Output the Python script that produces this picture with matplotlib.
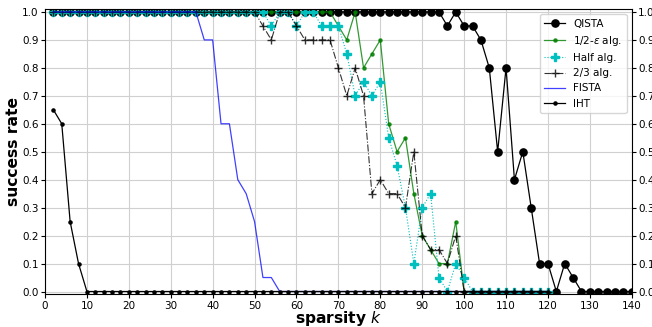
import matplotlib
matplotlib.use("Agg")
import matplotlib.pyplot as plt

# sparsity levels
k_qista = list(range(2, 142, 2))
k_other = list(range(2, 122, 2))

qista = [1.0, 1.0, 1.0, 1.0, 1.0, 1.0, 1.0, 1.0, 1.0, 1.0,
         1.0, 1.0, 1.0, 1.0, 1.0, 1.0, 1.0, 1.0, 1.0, 1.0,
         1.0, 1.0, 1.0, 1.0, 1.0, 1.0, 1.0, 1.0, 1.0, 1.0,
         1.0, 1.0, 1.0, 1.0, 1.0, 1.0, 1.0, 1.0, 1.0, 1.0,
         1.0, 1.0, 1.0, 1.0, 1.0, 1.0, 1.0, 0.95, 1.0, 0.95,
         0.95, 0.9, 0.8, 0.5, 0.8, 0.4, 0.5, 0.3, 0.1, 0.1,
         0.0, 0.1, 0.05, 0.0, 0.0, 0.0, 0.0, 0.0, 0.0, 0.0]

half_eps = [1.0, 1.0, 1.0, 1.0, 1.0, 1.0, 1.0, 1.0, 1.0, 1.0,
            1.0, 1.0, 1.0, 1.0, 1.0, 1.0, 1.0, 1.0, 1.0, 1.0,
            1.0, 1.0, 1.0, 1.0, 1.0, 1.0, 1.0, 1.0, 1.0, 1.0,
            1.0, 1.0, 1.0, 1.0, 0.95, 0.9, 1.0, 0.8, 0.85, 0.9,
            0.6, 0.5, 0.55, 0.35, 0.2, 0.15, 0.1, 0.1, 0.25, 0.0,
            0.0, 0.0, 0.0, 0.0, 0.0, 0.0, 0.0, 0.0, 0.0, 0.0]

half = [1.0, 1.0, 1.0, 1.0, 1.0, 1.0, 1.0, 1.0, 1.0, 1.0,
        1.0, 1.0, 1.0, 1.0, 1.0, 1.0, 1.0, 1.0, 1.0, 1.0,
        1.0, 1.0, 1.0, 1.0, 1.0, 1.0, 0.95, 1.0, 1.0, 0.95,
        1.0, 1.0, 0.95, 0.95, 0.95, 0.85, 0.7, 0.75, 0.7, 0.75,
        0.55, 0.45, 0.3, 0.1, 0.3, 0.35, 0.05, 0.0, 0.1, 0.05,
        0.0, 0.0, 0.0, 0.0, 0.0, 0.0, 0.0, 0.0, 0.0, 0.0]

two_thirds = [1.0, 1.0, 1.0, 1.0, 1.0, 1.0, 1.0, 1.0, 1.0, 1.0,
              1.0, 1.0, 1.0, 1.0, 1.0, 1.0, 1.0, 1.0, 1.0, 1.0,
              1.0, 1.0, 1.0, 1.0, 1.0, 0.95, 0.9, 1.0, 1.0, 0.95,
              0.9, 0.9, 0.9, 0.9, 0.8, 0.7, 0.8, 0.7, 0.35, 0.4,
              0.35, 0.35, 0.3, 0.5, 0.2, 0.15, 0.15, 0.1, 0.2, 0.0,
              0.0, 0.0, 0.0, 0.0, 0.0, 0.0, 0.0, 0.0, 0.0, 0.0]

fista = [1.0, 1.0, 1.0, 1.0, 1.0, 1.0, 1.0, 1.0, 1.0, 1.0,
         1.0, 1.0, 1.0, 1.0, 1.0, 1.0, 1.0, 1.0, 0.9, 0.9,
         0.6, 0.6, 0.4, 0.35, 0.25, 0.05, 0.05, 0.0, 0.0, 0.0,
         0.0, 0.0, 0.0, 0.0, 0.0, 0.0, 0.0, 0.0, 0.0, 0.0,
         0.0, 0.0, 0.0, 0.0, 0.0, 0.0, 0.0, 0.0, 0.0, 0.0,
         0.0, 0.0, 0.0, 0.0, 0.0, 0.0, 0.0, 0.0, 0.0, 0.0]

iht = [0.65, 0.6, 0.25, 0.1, 0.0, 0.0, 0.0, 0.0, 0.0, 0.0,
       0.0, 0.0, 0.0, 0.0, 0.0, 0.0, 0.0, 0.0, 0.0, 0.0,
       0.0, 0.0, 0.0, 0.0, 0.0, 0.0, 0.0, 0.0, 0.0, 0.0,
       0.0, 0.0, 0.0, 0.0, 0.0, 0.0, 0.0, 0.0, 0.0, 0.0,
       0.0, 0.0, 0.0, 0.0, 0.0, 0.0, 0.0, 0.0, 0.0, 0.0,
       0.0, 0.0, 0.0, 0.0, 0.0, 0.0, 0.0, 0.0, 0.0, 0.0]

fig, ax = plt.subplots(figsize=(6.52, 3.27), dpi=100)
fig.subplots_adjust(left=0.069, right=0.969, top=0.972, bottom=0.1)

ax.plot(k_qista, qista, 'k-o', lw=0.9, ms=5.2, label='QISTA')
ax.plot(k_other, half_eps, color='g', marker='.', ms=4.5, lw=0.9, alpha=0.8,
        label=r'1/2-$\epsilon$ alg.')
ax.plot(k_other, half, color='c', ls=':', marker='P', ms=5.5, lw=0.8,
        label='Half alg.')
ax.plot(k_other, two_thirds, color='k', ls='-.', marker='+', ms=5.5, lw=0.8,
        alpha=0.8, label='2/3 alg.')
ax.plot(k_other, fista, color='b', lw=0.9, alpha=0.75, label='FISTA')
ax.plot(k_other, iht, 'k.-', lw=0.9, ms=4.5, label='IHT')

ax.set_xlim(0, 140)
ax.set_ylim(-0.01, 1.01)
ax.set_xticks(range(0, 141, 10))
ax.set_yticks([i / 10 for i in range(11)])
ax.yaxis.set_major_formatter(matplotlib.ticker.FormatStrFormatter('%.1f'))
ax.tick_params(labelsize=7.5, right=True, labelright=True, length=3, pad=1.5)
ax.grid(True, color='#d0d0d0', lw=0.8)

ax.set_xlabel(r'sparsity $k$', fontsize=11.2, fontweight='bold', labelpad=-1)
ax.set_ylabel('success rate', fontsize=11.2, fontweight='bold', labelpad=1)
ax.legend(loc='upper right', fontsize=7.5)

fig.savefig('out.png', dpi=100)
